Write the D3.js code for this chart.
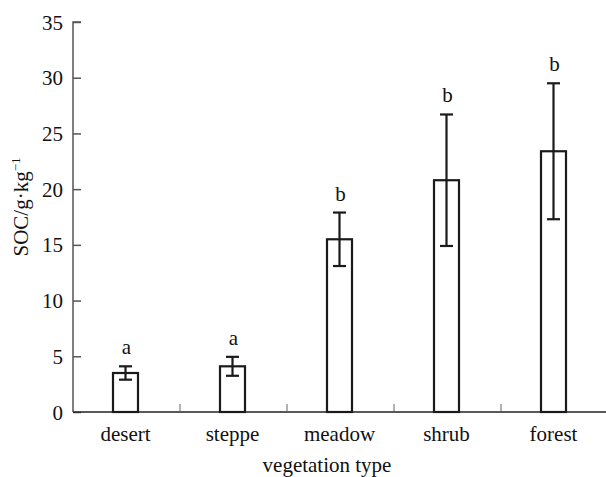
<!DOCTYPE html>
<html><head><meta charset="utf-8">
<script src="https://cdn.jsdelivr.net/npm/d3@7"></script>
<style>body{margin:0;background:#fff}svg{display:block}</style>
</head><body><svg id="c" width="606" height="477"></svg>
<script>
const categories = ["desert","steppe","meadow","shrub","forest"];
const means = [3.5, 4.1, 15.5, 20.8, 23.4];
const errs = [0.6, 0.85, 2.4, 5.9, 6.1];
const letters = ["a","a","b","b","b"];
const yTicks = [0,5,10,15,20,25,30,35];

const FONT = '"Liberation Serif"';
const FS = "21px";
const svg = d3.select("#c");
const x0 = 73, x1 = 608, yBase = 412, yTop = 22;
const x = d3.scaleBand().domain(categories).range([x0, x1]);
const y = d3.scaleLinear().domain([0,35]).range([yBase, yTop]);
const bw = 25, cap = 13;

function txt(sel){ return sel.attr("fill","#111").style("font-family",FONT).style("font-size",FS); }

// y axis
const ya = svg.append("g").attr("transform",`translate(${x0},0)`)
  .call(d3.axisRight(y).tickValues(yTicks).tickSize(8).tickFormat(d3.format("d")));
ya.attr("font-family", FONT).attr("font-size", 21);
ya.select(".domain").attr("stroke","#555").attr("stroke-width",1.5).attr("d",`M8,${yTop}H0V${yBase}`);
ya.selectAll(".tick line").attr("stroke","#555").attr("stroke-width",1.5);
txt(ya.selectAll(".tick text").attr("x",-10).attr("text-anchor","end").attr("dy","0.34em"));

// x axis
svg.append("line").attr("x1",x0).attr("x2",606).attr("y1",yBase).attr("y2",yBase)
  .attr("stroke","#222").attr("stroke-width",1.5);
categories.slice(1).forEach(c=>{
  svg.append("line").attr("x1",x(c)).attr("x2",x(c)).attr("y1",yBase-1).attr("y2",yBase-8)
    .attr("stroke","#999").attr("stroke-width",1.5);
});
categories.forEach(c=>{
  txt(svg.append("text").attr("x",x(c)+x.bandwidth()/2-1).attr("y",441).attr("text-anchor","middle")).text(c);
});

// bars
const g = svg.append("g");
categories.forEach((c,i)=>{
  const cx = x(c)+x.bandwidth()/2-1;
  g.append("rect").attr("x",cx-bw/2).attr("y",y(means[i])).attr("width",bw)
    .attr("height",yBase-y(means[i])).attr("fill","#fff").attr("stroke","#1a1a1a").attr("stroke-width",2.2);
  const hi = y(means[i]+errs[i]), lo = y(means[i]-errs[i]);
  g.append("line").attr("x1",cx).attr("x2",cx).attr("y1",hi).attr("y2",lo).attr("stroke","#1a1a1a").attr("stroke-width",2.2);
  g.append("line").attr("x1",cx-cap/2).attr("x2",cx+cap/2).attr("y1",hi).attr("y2",hi).attr("stroke","#1a1a1a").attr("stroke-width",2.2);
  g.append("line").attr("x1",cx-cap/2).attr("x2",cx+cap/2).attr("y1",lo).attr("y2",lo).attr("stroke","#1a1a1a").attr("stroke-width",2.2);
  txt(g.append("text").attr("x",cx+1).attr("y",hi-12).attr("text-anchor","middle")).text(letters[i]);
});

// titles
txt(svg.append("text").attr("x",327).attr("y",472).attr("text-anchor","middle")).text("vegetation type");
const yt = txt(svg.append("text").attr("transform","translate(28,207) rotate(-90)").attr("text-anchor","middle"));
yt.append("tspan").text("SOC/g·kg");
yt.append("tspan").attr("dy",-8).style("font-size","13px").text("−1");
</script></body></html>
